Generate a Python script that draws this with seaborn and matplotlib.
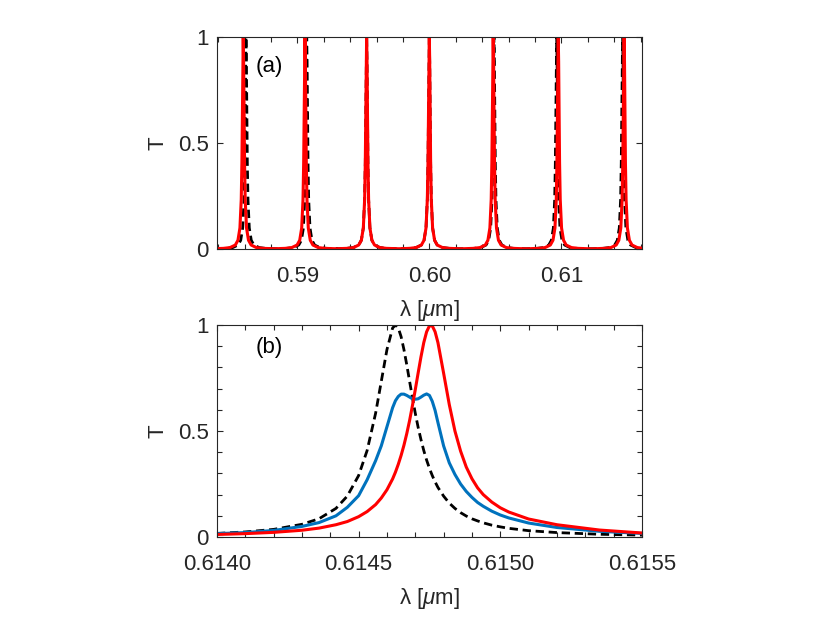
import numpy as np
import pandas as pd
import matplotlib
matplotlib.use("Agg")
import matplotlib.pyplot as plt
import seaborn as sns
from matplotlib.ticker import MultipleLocator, FormatStrFormatter

# ---------------- panel (a): resonance comb ----------------
# resonance centres [um]
peaks_red = [0.58589, 0.59057, 0.59524, 0.59999, 0.60483, 0.60976, 0.61475]
peaks_black = [0.58610, 0.59070, 0.59524, 0.59999, 0.60489, 0.60964, 0.614635]
# single resonance line shape (offset from centre [um], T)
shape_dl = [-0.0023, -0.0015, -0.0010, -0.0006, -0.0004, -0.00025, -0.00015,
            -0.0001, -0.00006, -0.00003, 0.0, 0.00003, 0.00006, 0.0001,
            0.00015, 0.00025, 0.0004, 0.0006, 0.0010, 0.0015, 0.0023]
shape_T = [0.0013, 0.0031, 0.0068, 0.0188, 0.0413, 0.0993, 0.234,
           0.408, 0.657, 0.884, 1.0, 0.884, 0.657, 0.408,
           0.234, 0.0993, 0.0413, 0.0188, 0.0068, 0.0031, 0.0013]

# ---------------- panel (b): zoom on one resonance ----------------
lam_b = [0.61400, 0.61410, 0.61420, 0.61430, 0.61436, 0.61442, 0.61446, 0.61450,
         0.61453, 0.61456, 0.61458, 0.61460, 0.61462, 0.61463, 0.61464, 0.61465,
         0.61466, 0.61467, 0.61468, 0.61469, 0.61470, 0.61471, 0.61472, 0.61473,
         0.61474, 0.61475, 0.61476, 0.61477, 0.61478, 0.61480, 0.61482, 0.61484,
         0.61486, 0.61488, 0.61490, 0.61492, 0.61494, 0.61497, 0.61500, 0.61503,
         0.61510, 0.61520, 0.61535, 0.61550]
T_black = [0.017, 0.024, 0.036, 0.060, 0.086, 0.135, 0.193, 0.290,
           0.408, 0.584, 0.734, 0.884, 0.986, 1.000, 0.986, 0.945,
           0.884, 0.812, 0.734, 0.657, 0.584, 0.518, 0.460, 0.408,
           0.363, 0.324, 0.290, 0.260, 0.234, 0.193, 0.160, 0.135,
           0.115, 0.099, 0.086, 0.076, 0.067, 0.056, 0.048, 0.041,
           0.030, 0.021, 0.013, 0.009]
T_blue = [0.016, 0.021, 0.031, 0.050, 0.068, 0.100, 0.140, 0.195,
          0.270, 0.360, 0.430, 0.520, 0.610, 0.643, 0.663, 0.674,
          0.674, 0.668, 0.660, 0.652, 0.650, 0.652, 0.660, 0.669,
          0.675, 0.668, 0.640, 0.597, 0.540, 0.430, 0.350, 0.295,
          0.250, 0.215, 0.187, 0.163, 0.145, 0.122, 0.104, 0.090,
          0.066, 0.045, 0.027, 0.017]
T_red = [0.012, 0.016, 0.022, 0.032, 0.042, 0.058, 0.073, 0.096,
         0.120, 0.153, 0.184, 0.223, 0.274, 0.306, 0.343, 0.385,
         0.433, 0.488, 0.550, 0.620, 0.695, 0.773, 0.849, 0.917,
         0.968, 0.996, 0.996, 0.968, 0.917, 0.773, 0.625, 0.500,
         0.405, 0.330, 0.275, 0.232, 0.200, 0.165, 0.138, 0.118,
         0.085, 0.058, 0.033, 0.019]


def comb(centres):
    x = np.concatenate([c + np.array(shape_dl) for c in centres])
    y = np.tile(shape_T, len(centres))
    return pd.DataFrame({"lam": x, "T": y})


sns.set_style("ticks")
plt.rcParams["font.family"] = ["Liberation Sans", "DejaVu Sans"]
plt.rcParams["mathtext.fontset"] = "custom"
plt.rcParams["mathtext.rm"] = "Liberation Sans"
plt.rcParams["mathtext.it"] = "Liberation Sans:italic"

FC = "#262626"
RED = "#FF0000"
BLUE = "#0072BD"
DASH = (0, (3, 1.7))

fig = plt.figure(figsize=(8.3, 6.23), dpi=100)
ax1 = fig.add_axes([0.2614, 0.6003, 0.512, 0.3403])
ax2 = fig.add_axes([0.2614, 0.1380, 0.512, 0.3403])

# (a)
dfa_k = comb(peaks_black)
dfa_r = comb(peaks_red)
sns.lineplot(data=dfa_k, x="lam", y="T", ax=ax1, color="k", lw=2,
             linestyle=DASH, sort=False, estimator=None)
sns.lineplot(data=dfa_r, x="lam", y="T", ax=ax1, color=RED, lw=2.2,
             sort=False, estimator=None)
ax1.set_xlim(0.5839, 0.6161)
ax1.set_ylim(0, 1)
ax1.xaxis.set_major_locator(MultipleLocator(0.01))
ax1.xaxis.set_minor_locator(MultipleLocator(0.002))
ax1.xaxis.set_major_formatter(FormatStrFormatter("%.2f"))
ax1.set_yticks([0, 0.5, 1])
ax1.set_yticklabels(["0", "0.5", "1"])
ax1.text(0.092, 0.86, "(a)", transform=ax1.transAxes, fontsize=16,
         va="center", ha="left", color="k")

# (b)
dfb = pd.DataFrame({"lam": lam_b, "black": T_black, "blue": T_blue, "red": T_red})
sns.lineplot(data=dfb, x="lam", y="black", ax=ax2, color="k", lw=2,
             linestyle=DASH, sort=False, estimator=None)
sns.lineplot(data=dfb, x="lam", y="blue", ax=ax2, color=BLUE, lw=2.2,
             sort=False, estimator=None)
sns.lineplot(data=dfb, x="lam", y="red", ax=ax2, color=RED, lw=2.2,
             sort=False, estimator=None)
ax2.set_xlim(0.6140, 0.6155)
ax2.set_ylim(0, 1)
ax2.xaxis.set_major_locator(MultipleLocator(0.0005))
ax2.xaxis.set_minor_locator(MultipleLocator(0.0001))
ax2.xaxis.set_major_formatter(FormatStrFormatter("%.4f"))
ax2.set_yticks([0, 0.5, 1])
ax2.set_yticklabels(["0", "0.5", "1"])
ax2.yaxis.set_minor_locator(MultipleLocator(0.1))
ax2.text(0.092, 0.892, "(b)", transform=ax2.transAxes, fontsize=16,
         va="center", ha="left", color="k")

for ax in (ax1, ax2):
    ax.set_xlabel(r"$\mathrm{\lambda}$ [$\mu$m]", fontsize=16, color=FC, labelpad=8)
    ax.set_ylabel("T", fontsize=16, color=FC, labelpad=7)
    ax.tick_params(which="both", direction="in", top=True, right=True,
                   colors=FC, labelsize=16, width=0.8)
    ax.tick_params(which="major", length=4.5)
    ax.tick_params(which="minor", length=3.5)
    ax.tick_params(axis="x", pad=12)
    ax.tick_params(axis="y", pad=6)
    for s in ax.spines.values():
        s.set_color(FC)
        s.set_linewidth(0.8)

fig.savefig("out.png", dpi=100)
